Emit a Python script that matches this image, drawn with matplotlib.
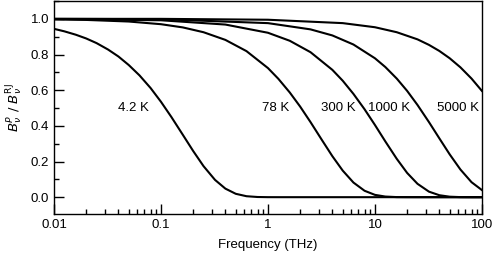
import matplotlib
matplotlib.use("Agg")
import matplotlib.pyplot as plt
from matplotlib.ticker import FixedLocator, MultipleLocator, FuncFormatter

plt.rcParams['font.family'] = ['Liberation Sans', 'DejaVu Sans']

# ratio of Planck to Rayleigh-Jeans brightness
freq_42 = [0.01, 0.0125, 0.016, 0.02, 0.025, 0.032, 0.04, 0.05, 0.063, 0.08,
           0.1, 0.125, 0.16, 0.2, 0.25, 0.32, 0.4, 0.5, 0.63, 0.8, 1, 1.25, 2, 100]
ratio_42 = [0.944, 0.930, 0.911, 0.890, 0.864, 0.828, 0.789, 0.741, 0.683, 0.612,
            0.535, 0.450, 0.350, 0.259, 0.174, 0.097, 0.048, 0.019, 0.0054, 0.001,
            0.0001, 0.0, 0.0, 0.0]

freq_78 = [0.01, 0.02, 0.05, 0.1, 0.16, 0.25, 0.4, 0.63, 1, 1.25, 1.6, 2, 2.5,
           3.2, 4, 5, 6.3, 8, 10, 12.5, 16, 20, 25, 100]
ratio_78 = [0.997, 0.994, 0.985, 0.970, 0.952, 0.925, 0.882, 0.819, 0.724, 0.664,
            0.587, 0.508, 0.421, 0.320, 0.230, 0.149, 0.082, 0.036, 0.013, 0.0035,
            0.0005, 0.0001, 0.0, 0.0]

freq_300 = [0.01, 0.1, 0.4, 1, 1.6, 2.5, 4, 5, 6.3, 8, 10, 12.5, 16, 20, 25, 32,
            40, 50, 63, 80, 100]
ratio_300 = [0.999, 0.992, 0.968, 0.922, 0.877, 0.813, 0.714, 0.653, 0.579, 0.493,
             0.405, 0.313, 0.215, 0.136, 0.075, 0.031, 0.011, 0.0027, 0.0004,
             0.0, 0.0]

freq_1000 = [0.01, 0.1, 1, 2.5, 4, 6.3, 10, 12.5, 16, 20, 25, 32, 40, 50, 63, 80, 100]
ratio_1000 = [1.0, 0.998, 0.976, 0.941, 0.907, 0.856, 0.779, 0.730, 0.665, 0.596,
              0.517, 0.421, 0.330, 0.240, 0.155, 0.084, 0.040]

freq_5000 = [0.01, 0.1, 1, 5, 10, 16, 25, 32, 40, 50, 63, 80, 100]
ratio_5000 = [1.0, 1.0, 0.995, 0.976, 0.953, 0.925, 0.885, 0.854, 0.820, 0.779,
              0.728, 0.665, 0.596]

labels = ['4.2 K', '78 K', '300 K', '1000 K', '5000 K']
label_x = [0.055, 1.19, 4.5, 13.5, 60]
label_y = [0.50, 0.50, 0.50, 0.50, 0.50]

fig = plt.figure(figsize=(4.93, 2.54), dpi=100)
ax = fig.add_axes([0.1095, 0.157, 0.868, 0.839])

for f, r in [(freq_42, ratio_42), (freq_78, ratio_78), (freq_300, ratio_300),
             (freq_1000, ratio_1000), (freq_5000, ratio_5000)]:
    ax.plot(f, r, color='black', lw=1.5)

for t, x, y in zip(labels, label_x, label_y):
    ax.text(x, y, t, ha='center', va='center', fontsize=9.5)

ax.set_xscale('log')
ax.set_xlim(0.01, 100)
ax.set_ylim(-0.095, 1.1)
ax.xaxis.set_major_locator(FixedLocator([0.01, 0.1, 1, 10, 100]))
ax.xaxis.set_major_formatter(FuncFormatter(lambda v, p: f"{v:g}"))
ax.yaxis.set_major_locator(FixedLocator([0.0, 0.2, 0.4, 0.6, 0.8, 1.0]))
ax.yaxis.set_minor_locator(MultipleLocator(0.1))
ax.yaxis.set_major_formatter(FuncFormatter(lambda v, p: f"{v:.1f}"))

ax.tick_params(which='both', direction='in', top=False, right=False,
               labelsize=9.5, width=1.0)
ax.tick_params(which='major', length=7.5)
ax.tick_params(which='minor', length=3.5)
for s in ax.spines.values():
    s.set_linewidth(1.0)

ax.set_xlabel('Frequency (THz)', fontsize=9.5, labelpad=6)
ax.set_ylabel(r'$B_\nu^{P}\ /\ B_\nu^{\rm RJ}$', fontsize=9.5, labelpad=4)

fig.savefig('out.png', dpi=100)
